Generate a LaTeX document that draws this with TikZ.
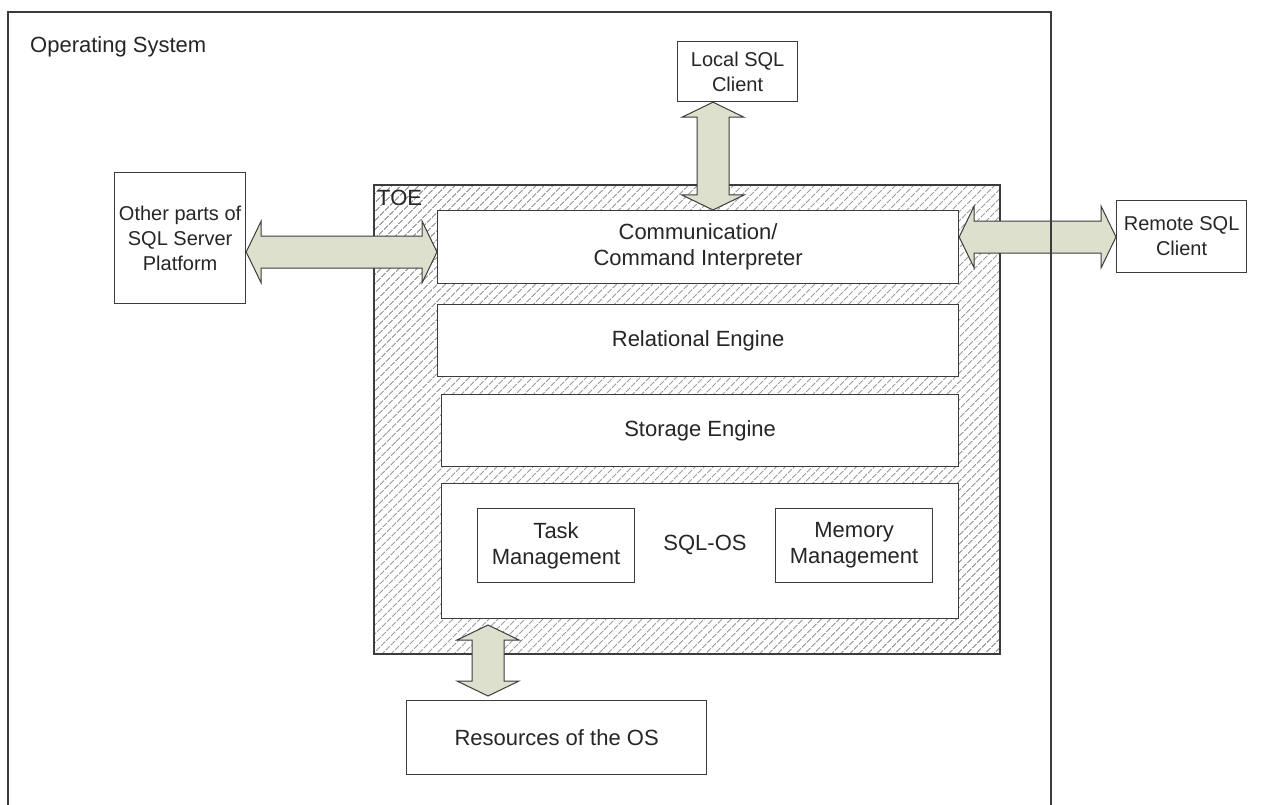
\documentclass[tikz,border=0pt]{standalone}
\usepackage{fontspec}
\setmainfont{Liberation Sans}
\usetikzlibrary{calc,patterns.meta}
\definecolor{lineC}{HTML}{3C3C3C}
\definecolor{hatchC}{HTML}{6E6E6E}
\definecolor{arrowC}{HTML}{DDE0CC}
\tikzset{
  box/.style={draw=lineC, line width=1.2pt, fill=white, rectangle, anchor=north west,
    align=center, inner sep=0pt, font=\fontsize{22}{26}\selectfont, text=black!85},
  outerbox/.style={box, font=\fontsize{20}{25}\selectfont},
  label/.style={inner sep=0pt, anchor=base west, font=\fontsize{22}{26}\selectfont, text=black!85},
  bigarrow/.style={draw=lineC, line width=1pt, fill=arrowC, line join=miter},
}
\newcommand\harrow[3]{%
  \draw[bigarrow] (#1 |- 0,#3) -- ++(15,-31) -- ++(0,15) -- ($(#2 |- 0,#3)+(-15,-16)$)
    -- ++(0,-15) -- (#2 |- 0,#3) -- ++(-15,31) -- ++(0,-15) -- ($(#1 |- 0,#3)+(15,16)$)
    -- ++(0,15) -- cycle;}
\newcommand\varrow[3]{%
  \draw[bigarrow] (#1 -| #3,0) -- ++(31,15) -- ++(-15,0) -- ($(#2 -| #3,0)+(16,-15)$)
    -- ++(15,0) -- (#2 -| #3,0) -- ++(-31,-15) -- ++(15,0) -- ($(#1 -| #3,0)+(-16,15)$)
    -- ++(-15,0) -- cycle;}
\begin{document}
\begin{tikzpicture}[x=1pt,y=-1pt]
\useasboundingbox (0,0) rectangle (1279,805);
\fill[white] (0,0) rectangle (1279,805);
% TOE hatched area
\fill[pattern={Lines[angle=45,distance=6.4pt,line width=1pt]}, pattern color=hatchC] (374,185) rectangle (1000,654);
\draw[lineC, line width=1.2pt] (374,185) rectangle (1000,654);
\node[label] (toe) at (377,206) {TOE};
\node[label] (os) at (30,53) {Operating System};
% boxes
\node[outerbox, minimum width=120pt, minimum height=60pt] (local) at (677,41) {Local SQL\\Client};
\node[outerbox, minimum width=131pt, minimum height=131pt] (other) at (114,172) {Other parts of\\SQL Server\\Platform};
\node[outerbox, minimum width=130pt, minimum height=72pt] (remote) at (1116,200) {Remote SQL\\Client};
\node[box, minimum width=521pt, minimum height=73pt] (comm) at (437,210) {Communication/\\Command Interpreter};
\node[box, minimum width=521pt, minimum height=72pt] (rel) at (437,304) {Relational Engine};
\node[box, minimum width=517pt, minimum height=72pt] (stor) at (441,394) {Storage Engine};
\node[box, minimum width=517pt, minimum height=135pt] (sqlos) at (441,483) {};
\node[inner sep=0pt, font=\fontsize{22}{26}\selectfont, text=black!85] (sqlostxt) at (705,545) {SQL-OS};
\node[box, minimum width=157pt, minimum height=74pt] (task) at (477,508) {Task\\Management};
\node[box, minimum width=157pt, minimum height=74pt] (mem) at (775,508) {Memory\\Management};
\node[box, minimum width=300pt, minimum height=74pt] (res) at (406,700) {Resources of the OS};
\coordinate (btop) at (488,625);
\coordinate (bbot) at (488,696);
% arrows
\varrow{local.south}{comm.north}{713}
\harrow{other.east}{comm.west}{252}
\harrow{comm.east}{remote.west}{237}
\varrow{btop}{bbot}{488}
% operating system frame
\draw[lineC, line width=1.2pt] (8,810) -- (8,12) -- (1051,12) -- (1051,810);
\end{tikzpicture}
\end{document}
